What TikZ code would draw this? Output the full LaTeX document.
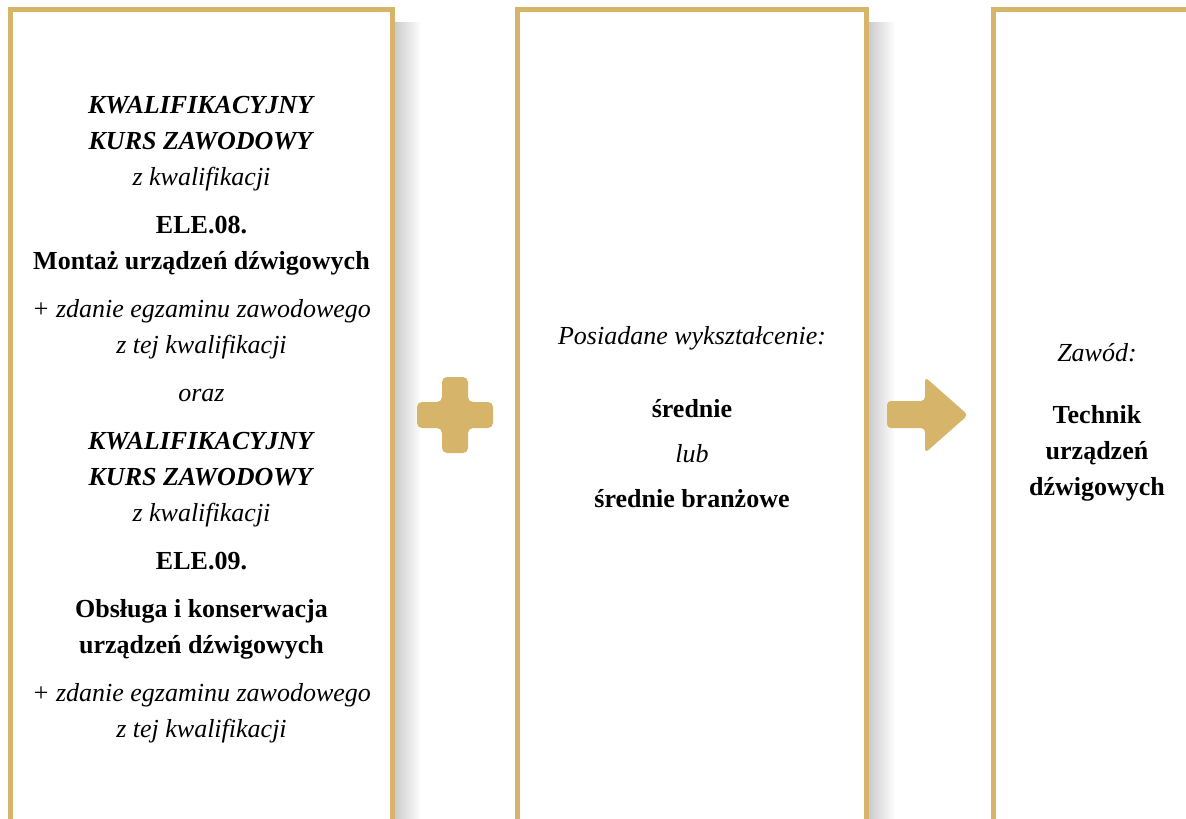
\documentclass[tikz,border=0pt]{standalone}
\usepackage{fontspec}
\setmainfont{Liberation Serif}
\definecolor{gold}{RGB}{214,180,106}

\begin{document}
\begin{tikzpicture}[x=1pt,y=-1pt,
		panel/.style={draw=gold,line width=5pt,fill=white,inner sep=0pt,minimum width=349pt,minimum height=820pt},
		txt/.style={align=center,inner sep=0pt,font=\fontsize{26}{36}\selectfont},
		sign/.style={fill=gold,rounded corners=5pt}]
		
		\useasboundingbox (0,0) rectangle (1186,819);
		\clip (0,0) rectangle (1186,819);
		
		\shade[left color=black!20,right color=white] (395,22) rectangle (421,819);
		\shade[left color=black!20,right color=white] (869,22) rectangle (895,819);
		
		\node[panel,minimum width=382pt] (kurs) at (201.5,419.5) {};
		\node[panel] (wyksz) at (692,419.5) {};
		\node[panel] (zawod) at (1168,419.5) {};
		
		\node[txt] (kursT) at (201.5,419.5) {\textbf{\textit{KWALIFIKACYJNY}}\\ \textbf{\textit{KURS ZAWODOWY}}\\ \textit{z kwalifikacji}\\[12pt]
			\textbf{ELE.08.}\\ \textbf{Montaż urządzeń dźwigowych}\\[12pt]
			\textit{+ zdanie egzaminu zawodowego}\\ \textit{z tej kwalifikacji}\\[12pt]
			\textit{oraz}\\[12pt]
			\textbf{\textit{KWALIFIKACYJNY}}\\ \textbf{\textit{KURS ZAWODOWY}}\\ \textit{z kwalifikacji}\\[12pt]
			\textbf{ELE.09.}\\[12pt]
			\textbf{Obsługa i konserwacja}\\ \textbf{urządzeń dźwigowych}\\[12pt]
			\textit{+ zdanie egzaminu zawodowego}\\ \textit{z tej kwalifikacji}};
		\node[txt] (wykszT) at (692,417) {\textit{Posiadane wykształcenie:}\\[37pt] \textbf{średnie}\\[9pt] \textit{lub}\\[9pt] \textbf{średnie branżowe}};
		\node[txt] (zawodT) at (1097,422) {\textit{Zawód:}\\[26pt] \textbf{Technik}\\ \textbf{urządzeń}\\ \textbf{dźwigowych}};
		
		\fill[sign] (442,377) -- (468,377) -- (468,402) -- (493,402) -- (493,428) -- (468,428) -- (468,453) -- (442,453) -- (442,428) -- (417,428) -- (417,402) -- (442,402) -- cycle;
		\fill[sign,rounded corners=4pt] (887,401) -- (925,401) -- (925,377) -- (968,415) -- (925,453) -- (925,428) -- (887,428) -- cycle;
		
	\end{tikzpicture}
\end{document}
